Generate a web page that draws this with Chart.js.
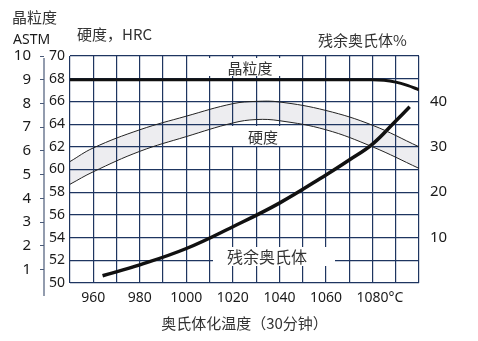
<!DOCTYPE html>
<html>
<head>
<meta charset="utf-8">
<script src="https://cdn.jsdelivr.net/npm/chart.js@4.4.1/dist/chart.umd.min.js"></script>
<style>
  html, body { margin: 0; padding: 0; background: #fff; }
  #wrap { width: 478px; height: 341px; }
</style>
</head>
<body>
<div id="wrap"><canvas id="chart" width="478" height="341"></canvas></div>
<script>
// grain size (ASTM) vs temperature
const grainTemps = [950, 960, 970, 980, 990, 1000, 1010, 1020, 1030, 1040, 1050, 1060, 1070, 1080, 1085, 1090, 1095, 1100];
const grainSize = [9, 9, 9, 9, 9, 9, 9, 9, 9, 9, 9, 9, 9, 9, 8.98, 8.9, 8.76, 8.58];

// hardness band (HRC)
const hardTemps = [950, 960, 980, 1000, 1020, 1030, 1040, 1060, 1080, 1100];
const hardUpper = [60.7, 61.9, 63.5, 64.7, 65.8, 66.0, 65.95, 65.2, 63.9, 62.0];
const hardLower = [58.7, 59.8, 61.6, 62.9, 64.1, 64.4, 64.3, 63.5, 62.0, 60.1];

// retained austenite %
const resTemps = [964, 980, 1000, 1020, 1040, 1060, 1070, 1080, 1090, 1096];
const resPct = [1.6, 4.0, 7.6, 12.4, 17.6, 23.8, 27.1, 30.6, 35.7, 38.8];

// ticks
const tempGrid = [950, 960, 970, 980, 990, 1000, 1010, 1020, 1030, 1040, 1050, 1060, 1070, 1080, 1090, 1100];
const tempLabels = [960, 980, 1000, 1020, 1040, 1060, 1080];
const hrcTicks = [50, 52, 54, 56, 58, 60, 62, 64, 66, 68, 70];
const astmTicks = [1, 2, 3, 4, 5, 6, 7, 8, 9, 10];
const resTicks = [10, 20, 30, 40];

const gridColor = '#1e3560';
const textColor = '#1a1a1a';
const cjk = '"Noto Sans CJK SC", sans-serif';
const latin = '"Noto Sans", sans-serif';

const pts = (xs, ys) => xs.map((x, i) => ({ x: x, y: ys[i] }));
const setTicks = (arr) => (scale) => { scale.ticks = arr.map(v => ({ value: v })); };

const annotate = {
  id: 'annotate',
  beforeDatasetsDraw(chart) {
    const ctx = chart.ctx;
    ctx.save();
    // white boxes behind inner labels
    ctx.fillStyle = '#fff';
    ctx.fillRect(205, 58, 86, 18);
    ctx.fillRect(228, 126, 72, 20);
    ctx.fillRect(213, 247, 122, 19);
    ctx.fillStyle = '#333';
    ctx.textAlign = 'center';
    ctx.textBaseline = 'middle';
    ctx.font = '15px ' + cjk;
    ctx.fillText('晶粒度', 250, 68);
    ctx.fillText('硬度', 263, 137);
    ctx.font = '16px ' + cjk;
    ctx.fillText('残余奥氏体', 267, 257);
    ctx.restore();
  },
  afterDraw(chart) {
    const ctx = chart.ctx;
    const astm = chart.scales.astm;
    const x = chart.scales.x;
    ctx.save();
    // ASTM axis line
    ctx.strokeStyle = '#4a5a78';
    ctx.lineWidth = 1.2;
    ctx.beginPath();
    ctx.moveTo(astm.right, 58);
    ctx.lineTo(astm.right, 296);
    ctx.stroke();
    // axis titles on top
    ctx.fillStyle = '#333';
    ctx.textAlign = 'left';
    ctx.textBaseline = 'middle';
    ctx.font = '15px ' + cjk;
    ctx.fillText('晶粒度', 12, 17);
    ctx.fillText('硬度，HRC', 77, 34);
    ctx.fillText('残余奥氏体%', 318, 40);
    ctx.fillStyle = textColor;
    ctx.font = '14px ' + latin;
    ctx.fillText('ASTM', 13, 40);
    // degree sign after the last temperature label
    const px = x.getPixelForValue(1080) + ctx.measureText('1080').width / 2;
    ctx.fillText('°C', px, 298);
    ctx.restore();
  }
};

new Chart(document.getElementById('chart'), {
  type: 'line',
  data: {
    datasets: [
      {
        label: '晶粒度',
        data: pts(grainTemps, grainSize),
        yAxisID: 'astm',
        borderColor: '#111',
        borderWidth: 3,
        pointRadius: 0,
        cubicInterpolationMode: 'monotone',
        fill: false
      },
      {
        label: '硬度上限',
        data: pts(hardTemps, hardUpper),
        yAxisID: 'hrc',
        borderColor: '#222',
        borderWidth: 1,
        pointRadius: 0,
        tension: 0.4,
        fill: '+1',
        backgroundColor: '#ededf0'
      },
      {
        label: '硬度下限',
        data: pts(hardTemps, hardLower),
        yAxisID: 'hrc',
        borderColor: '#222',
        borderWidth: 1,
        pointRadius: 0,
        tension: 0.4,
        fill: false
      },
      {
        label: '残余奥氏体',
        data: pts(resTemps, resPct),
        yAxisID: 'res',
        borderColor: '#111',
        borderWidth: 3.5,
        pointRadius: 0,
        tension: 0.4,
        fill: false
      }
    ]
  },
  options: {
    responsive: false,
    animation: false,
    layout: { padding: { top: 56, left: 0, right: 0, bottom: 0 } },
    plugins: {
      legend: { display: false },
      tooltip: { enabled: false },
      filler: { drawTime: 'beforeDraw' }
    },
    scales: {
      x: {
        type: 'linear',
        min: 950,
        max: 1100,
        afterBuildTicks: setTicks(tempGrid),
        afterFit: (s) => { s.height = 58; },
        grid: { color: gridColor, lineWidth: 1.2, drawTicks: false },
        border: { display: false },
        ticks: {
          padding: 7,
          color: textColor,
          font: { family: latin, size: 14 },
          maxRotation: 0,
          autoSkip: false,
          callback: (v) => tempLabels.includes(v) ? String(v) : ''
        },
        title: {
          display: true,
          text: '奥氏体化温度（30分钟）',
          color: '#333',
          font: { family: cjk, size: 15 },
          padding: { top: 0, bottom: 9 }
        }
      },
      astm: {
        type: 'linear',
        position: 'left',
        weight: 1,
        min: 0.44,
        max: 10,
        afterBuildTicks: setTicks(astmTicks),
        afterFit: (s) => { s.width = 44; },
        grid: { display: true, drawOnChartArea: false, drawTicks: true, tickLength: 4, tickColor: '#4a5a78' },
        border: { display: false },
        ticks: { padding: 9, color: textColor, font: { family: latin, size: 15 } }
      },
      hrc: {
        type: 'linear',
        position: 'left',
        weight: 0,
        min: 50,
        max: 70,
        afterBuildTicks: setTicks(hrcTicks),
        afterFit: (s) => { s.width = 26; },
        grid: { color: gridColor, lineWidth: 1.2, drawTicks: false },
        border: { display: false },
        ticks: { padding: 5, color: textColor, font: { family: latin, size: 14 } }
      },
      res: {
        type: 'linear',
        position: 'right',
        min: 0,
        max: 50,
        afterBuildTicks: setTicks(resTicks),
        afterFit: (s) => { s.width = 59; },
        grid: { display: false },
        border: { display: false },
        ticks: { padding: 3, color: textColor, font: { family: latin, size: 15 } }
      }
    }
  },
  plugins: [annotate]
});
</script>
</body>
</html>
